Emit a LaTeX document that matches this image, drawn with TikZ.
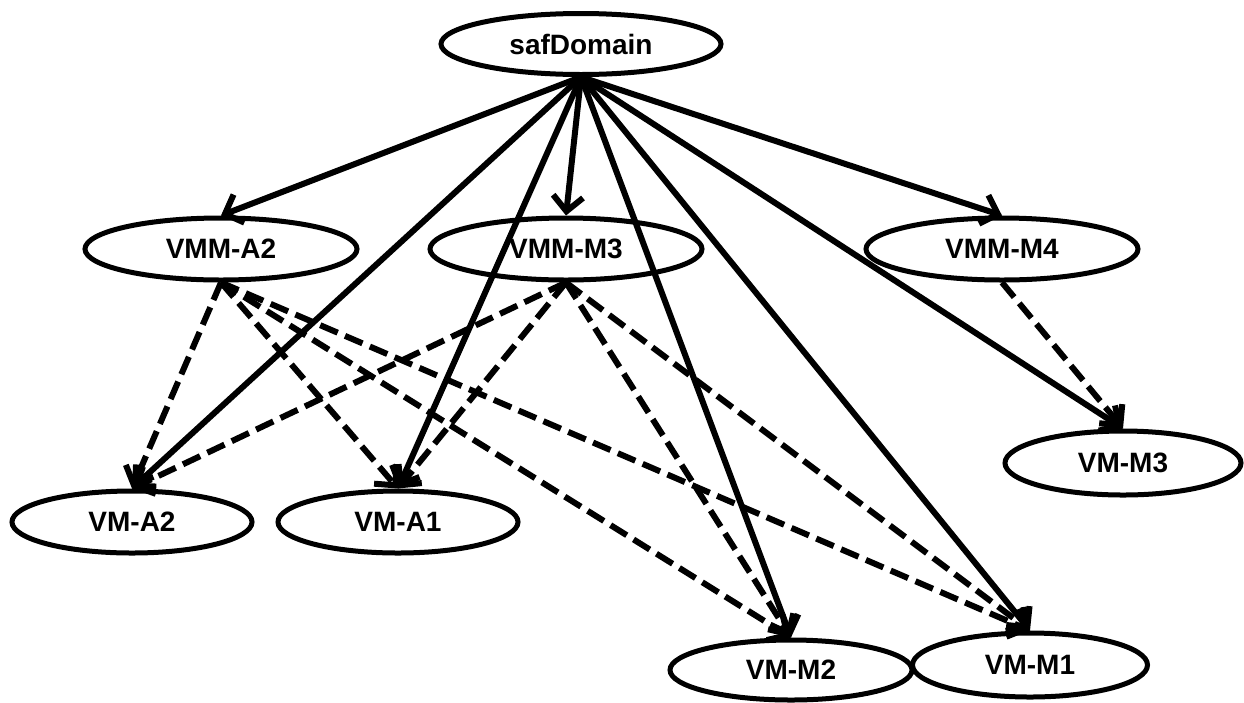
\documentclass[tikz,border=0pt]{standalone}
\usepackage{fontspec}
\setmainfont{Liberation Sans}
\usetikzlibrary{shapes.geometric,arrows.meta}
\begin{document}
\begin{tikzpicture}[x=1pt,y=-1pt,
  nd/.style={ellipse,draw=black,line width=5pt,inner sep=0pt,
    font=\fontsize{28}{32}\selectfont\bfseries},
  big/.style={nd,minimum width=272pt,minimum height=62pt},
  small/.style={nd,minimum width=240pt,minimum height=62pt},
  solidarrow/.style={line width=6pt,-{Straight Barb[length=15pt,width=30pt]}},
  dasharrow/.style={line width=6pt,dash pattern=on 19pt off 8pt,-{Straight Barb[length=15pt,width=30pt]}}]
\useasboundingbox (0,0) rectangle (1244,702);
\node[big,minimum width=280pt,minimum height=61pt] (saf) at (581,44) {safDomain};
\node[big] (vmmA2) at (221,249) {VMM-A2};
\node[big] (vmmM3) at (566,249) {VMM-M3};
\node[big] (vmmM4) at (1002,249) {VMM-M4};
\node[small] (vmA2) at (132,522) {VM-A2};
\node[small] (vmA1) at (398,522) {VM-A1};
\node[small,minimum width=236pt,minimum height=64pt] (vmM3) at (1123,463) {VM-M3};
\node[small,minimum width=242pt,minimum height=60pt] (vmM2) at (791,670) {VM-M2};
\node[small,minimum width=235pt,minimum height=64pt] (vmM1) at (1030,665) {VM-M1};
% solid edges
\foreach \t in {vmmA2,vmmM3,vmmM4,vmA2,vmA1,vmM2,vmM1,vmM3}
  \draw[solidarrow] (saf.south) -- (\t.north);
% dashed edges
\foreach \t in {vmA2,vmA1,vmM2,vmM1}{
  \draw[dasharrow] (vmmA2.south) -- (\t.north);
  \draw[dasharrow] (vmmM3.south) -- (\t.north);
}
\draw[dasharrow] (vmmM4.south) -- (vmM3.north);
\end{tikzpicture}
\end{document}
